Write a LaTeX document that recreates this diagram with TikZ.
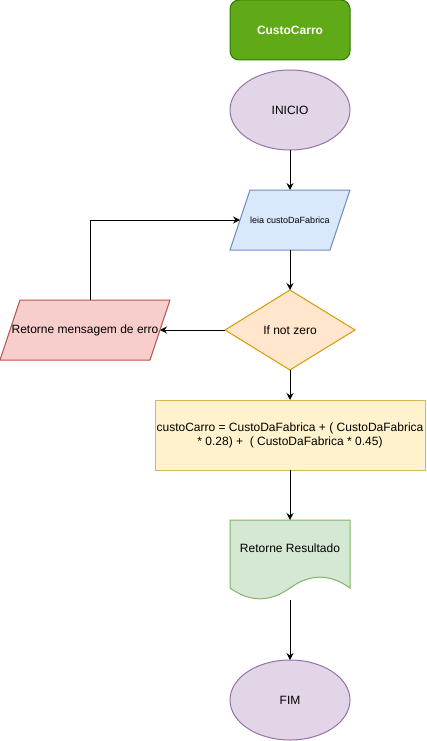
\documentclass[tikz,border=0pt]{standalone}
\usepackage{fontspec}
\setmainfont{Liberation Sans}
\usetikzlibrary{shapes.geometric,arrows.meta}
\definecolor{gfill}{HTML}{60A917}\definecolor{gline}{HTML}{2D7600}
\definecolor{pfill}{HTML}{E1D5E7}\definecolor{pline}{HTML}{9673A6}
\definecolor{bfill}{HTML}{DAE8FC}\definecolor{bline}{HTML}{6C8EBF}
\definecolor{ofill}{HTML}{FFE6CC}\definecolor{oline}{HTML}{D79B00}
\definecolor{rfill}{HTML}{F8CECC}\definecolor{rline}{HTML}{B85450}
\definecolor{yfill}{HTML}{FFF2CC}\definecolor{yline}{HTML}{D6B656}
\definecolor{dfill}{HTML}{D5E8D4}\definecolor{dline}{HTML}{82B366}
\begin{document}
\begin{tikzpicture}[x=1pt,y=-1pt,line width=1pt,
  every node/.style={inner sep=0pt,outer sep=0pt,font=\fontsize{12}{14}\selectfont},
  titlebox/.style={draw=gline,fill=gfill,rounded corners=9pt,minimum width=120pt,minimum height=60pt,text=white,font=\fontsize{12}{14}\selectfont\bfseries},
  term/.style={ellipse,draw=pline,fill=pfill,minimum width=120pt,minimum height=80pt},
  ghost/.style={rectangle,minimum width=#1,minimum height=60pt},
  decision/.style={diamond,draw=oline,fill=ofill,minimum width=130pt,minimum height=80pt},
  procbox/.style={rectangle,draw=yline,fill=yfill,minimum width=270pt,minimum height=70pt,align=center},
  arr/.style={-{Stealth[length=7pt,width=7pt,inset=2.5pt]},line width=1pt}]
\useasboundingbox (0,0) rectangle (426,741);
% shapes drawn directly
\draw[draw=bline,fill=bfill] (250,190) -- (350,190) -- (330,250) -- (230,250) -- cycle;
\draw[draw=rline,fill=rfill] (20,300) -- (170,300) -- (150,360) -- (0,360) -- cycle;
\draw[draw=dline,fill=dfill] (230,520) -- (350,520) -- (350,588)
  .. controls (330,573.6) and (310,573.6) .. (290,588)
  .. controls (270,602.4) and (250,602.4) .. (230,588) -- cycle;
% nodes
\node[titlebox] (title) at (290,30) {CustoCarro};
\node[term] (inicio) at (290,110) {INICIO};
\node[ghost=100pt] (leia) at (290,220) {\fontsize{9}{11}\selectfont leia custoDaFabrica};
\node[decision] (dec) at (290,330) {If not zero};
\node[ghost=150pt] (err) at (85,330) {Retorne mensagem de erro};
\node[procbox] (calc) at (290,435) {custoCarro = CustoDaFabrica + ( CustoDaFabrica\\* 0.28) +\ \ ( CustoDaFabrica * 0.45)};
\node[rectangle,minimum width=120pt,minimum height=80pt] (res) at (290,560) {};
\node (restext) at (290,548) {Retorne Resultado};
\node[term] (fim) at (290,700) {FIM};
\coordinate (fb) at (90,220);
% connectors
\draw[arr] (inicio.south) -- (leia.north);
\draw[arr] (leia.south) -- (dec.north);
\draw[arr] (dec.west) -- (err.east);
\draw[arr] (err.north -| fb) -- (fb) -- (leia.west);
\draw[arr] (dec.south) -- (calc.north);
\draw[arr] (calc.south) -- (res.north);
\draw[arr] (res.south) -- (fim.north);
\end{tikzpicture}
\end{document}
